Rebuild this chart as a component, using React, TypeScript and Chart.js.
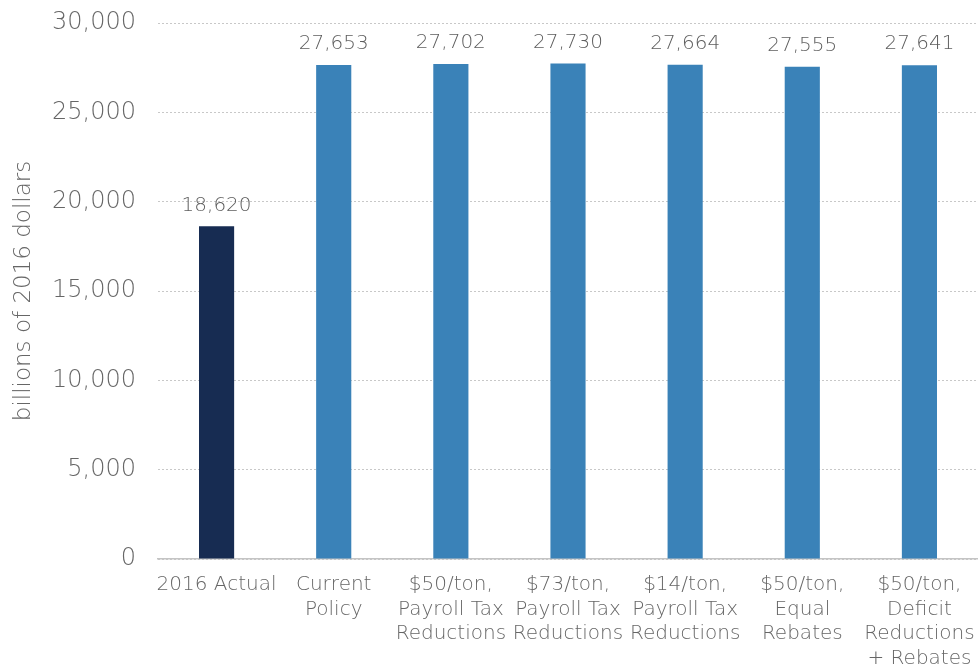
import React, { useEffect, useRef } from "react";
import { Chart, registerables } from "chart.js";

Chart.register(...registerables);

const categories: string[][] = [
  ["2016 Actual"],
  ["Current", "Policy"],
  ["$50/ton,", "Payroll Tax", "Reductions"],
  ["$73/ton,", "Payroll Tax", "Reductions"],
  ["$14/ton,", "Payroll Tax", "Reductions"],
  ["$50/ton,", "Equal", "Rebates"],
  ["$50/ton,", "Deficit", "Reductions", "+ Rebates"],
];
const values: number[] = [18620, 27653, 27702, 27730, 27664, 27555, 27641];
const barColors: string[] = ["#172c52", "#3a82b8", "#3a82b8", "#3a82b8", "#3a82b8", "#3a82b8", "#3a82b8"];
const yMin = 0;
const yMax = 30000;
const yStep = 5000;
const yTitle = "billions of 2016 dollars";

const FONT = "'DejaVu Sans', sans-serif";
const WEIGHT = "200";
const GRAY = "#666666";

const valueLabels = {
  id: "valueLabels",
  afterDatasetsDraw(chart: any) {
    const ctx = chart.ctx;
    const meta = chart.getDatasetMeta(0);
    ctx.save();
    ctx.font = `${WEIGHT} 20px ${FONT}`;
    ctx.fillStyle = "#5e5e5e";
    ctx.textAlign = "center";
    ctx.textBaseline = "middle";
    meta.data.forEach((bar: any, i: number) => {
      ctx.fillText(values[i].toLocaleString("en-US"), bar.x, bar.y - 21);
    });
    ctx.restore();
  },
};

export default function App() {
  const ref = useRef<HTMLCanvasElement>(null);
  useEffect(() => {
    document.body.style.margin = "0";
    const chart = new Chart(ref.current!, {
      type: "bar",
      data: {
        labels: categories,
        datasets: [
          {
            data: values,
            backgroundColor: barColors,
            barPercentage: 0.3,
            categoryPercentage: 1,
          },
        ],
      },
      options: {
        responsive: false,
        animation: false,
        layout: { padding: 0 },
        plugins: { legend: { display: false }, tooltip: { enabled: false } },
        scales: {
          x: {
            grid: { display: false },
            border: { display: true, color: "#c4c4c4", width: 1.5 },
            ticks: {
              color: GRAY,
              font: { family: FONT, size: 20, weight: WEIGHT as any, lineHeight: 1.22 },
              padding: 6,
              maxRotation: 0,
              autoSkip: false,
            },
            afterFit: (scale: any) => {
              scale.height = 106;
              scale.paddingLeft = 0;
              scale.paddingRight = 0;
            },
          },
          y: {
            min: yMin,
            max: yMax,
            grid: { color: "#c8c8c8", lineWidth: 1, drawTicks: false },
            border: { display: false, dash: [2, 2] },
            ticks: {
              stepSize: yStep,
              color: GRAY,
              padding: 22,
              font: { family: FONT, size: 24, weight: WEIGHT as any },
              callback: (v: any) => Number(v).toLocaleString("en-US"),
            },
            title: {
              display: true,
              text: yTitle,
              color: GRAY,
              font: { family: FONT, size: 23, weight: WEIGHT as any },
              padding: { top: 10, bottom: 0 },
            },
            afterFit: (scale: any) => {
              scale.width = 158;
              scale.paddingTop = 23;
              scale.paddingBottom = 0;
            },
          },
        },
      },
      plugins: [valueLabels],
    });
    return () => chart.destroy();
  }, []);
  return (
    <div style={{ position: "absolute", left: 0, top: 0, width: 978, height: 665, background: "#fff" }}>
      <canvas ref={ref} width={978} height={665} />
    </div>
  );
}
